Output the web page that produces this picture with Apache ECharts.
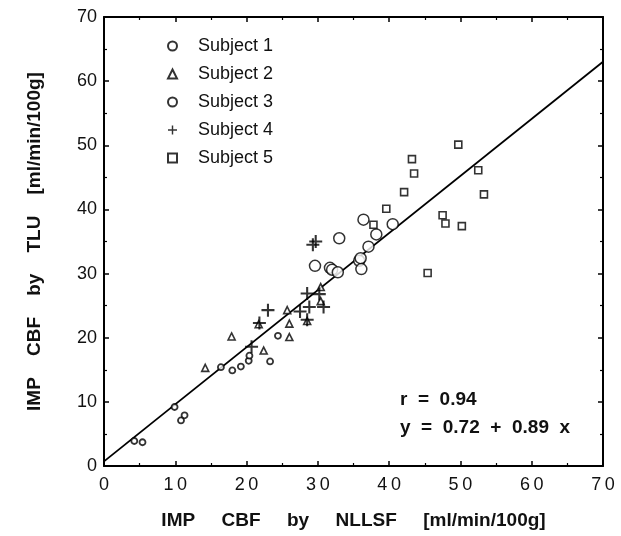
<!DOCTYPE html>
<html><head><meta charset="utf-8">
<script src="https://cdn.jsdelivr.net/npm/echarts@6/dist/echarts.min.js"></script>
<style>html,body{margin:0;padding:0;background:#fff}#c{width:621px;height:536px}</style>
</head><body><div id="c"></div>
<script>
// Data [NLLSF, TLU] in ml/min/100g
var subject1 = [[29.6,31.2],[31.7,30.9],[32.0,30.6],[32.8,30.2],[33.0,35.5],[35.8,32.0],[36.0,32.4],[36.1,30.7],[36.4,38.4],[37.1,34.2],[38.2,36.1],[40.5,37.7]];
var subject2 = [[14.2,15.3],[17.9,20.2],[21.7,22.1],[22.4,18.0],[25.7,24.3],[26.0,22.2],[26.0,20.1],[28.5,22.6],[30.4,27.9],[30.4,25.7]];
var subject3 = [[4.25,3.9],[5.4,3.7],[9.9,9.2],[10.8,7.1],[11.3,7.9],[16.4,15.4],[18.0,14.9],[19.2,15.5],[20.3,16.4],[20.4,17.2],[23.3,16.3],[24.4,20.3]];
var subject4 = [[20.7,18.6],[21.8,22.3],[23.0,24.3],[27.5,24.1],[28.5,26.9],[28.8,24.8],[28.5,22.8],[30.2,26.8],[30.8,24.8],[29.3,34.5],[29.7,35.0]];
var subject5 = [[37.8,37.6],[39.6,40.1],[42.1,42.7],[43.2,47.85],[43.5,45.6],[45.4,30.1],[47.5,39.1],[47.9,37.8],[49.7,50.1],[50.2,37.4],[52.5,46.1],[53.3,42.35]];
var seriesNames = ['Subject 1','Subject 2','Subject 3','Subject 4','Subject 5'];
var fitIntercept = 0.72, fitSlope = 0.89, fitR = 0.94;
var fitRange = [0, 70];
var axisMin = 0, axisMax = 70, axisInterval = 10;

var F = '"Liberation Sans", Arial, Helvetica, sans-serif';
var plusPath = 'path://M4.2,0 H5.8 V4.2 H10 V5.8 H5.8 V10 H4.2 V5.8 H0 V4.2 H4.2 Z';
function sc(name, data, symbol, size, style){
  return {name:name, type:'scatter', data:data, symbol:symbol, symbolSize:size, itemStyle:style, z:3};
}
var fitLine = fitRange.map(function(x){return [x, fitIntercept + fitSlope*x];});

var chart = echarts.init(document.getElementById('c'), null, {renderer:'canvas'});
var axisCommon = {
  type:'value', min:axisMin, max:axisMax, interval:axisInterval,
  axisLine:{show:true, onZero:false, lineStyle:{color:'#000', width:2}},
  axisTick:{show:true, inside:true, length:5, lineStyle:{color:'#000', width:1.5}},
  minorTick:{show:true, splitNumber:2, length:3, lineStyle:{color:'#000', width:1.2}},
  splitLine:{show:false}
};
chart.setOption({
  animation:false,
  backgroundColor:'#fff',
  grid:{left:104, right:18, top:17, bottom:70},
  legend:{
    orient:'vertical', left:162, top:32, itemGap:10, itemWidth:9, itemHeight:9,
    data:seriesNames,
    textStyle:{fontFamily:F, fontSize:18, color:'#111', padding:[0,0,0,16]}
  },
  xAxis:[
    Object.assign({}, axisCommon, {
      position:'bottom',
      name:'IMP     CBF     by     NLLSF     [ml/min/100g]', nameLocation:'middle', nameGap:45,
      nameTextStyle:{fontFamily:F, fontSize:19, fontWeight:'bold', color:'#111'},
      axisLabel:{fontFamily:F, fontSize:18, color:'#111', margin:10,
        formatter:function(v){return String(v).split('').join('\u2009');}}
    }),
    Object.assign({}, axisCommon, {position:'top', axisLabel:{show:false}})
  ],
  yAxis:[
    Object.assign({}, axisCommon, {
      position:'left',
      name:'IMP    CBF    by    TLU    [ml/min/100g]', nameLocation:'middle', nameGap:60,
      nameTextStyle:{fontFamily:F, fontSize:19, fontWeight:'bold', color:'#111'},
      axisLabel:{fontFamily:F, fontSize:18, color:'#111', margin:7}
    }),
    Object.assign({}, axisCommon, {position:'right', axisLabel:{show:false}})
  ],
  series:[
    sc(seriesNames[0], subject1, 'circle', 11, {color:'#fff', borderColor:'#000', borderWidth:1.5}),
    sc(seriesNames[1], subject2, 'triangle', 7, {color:'#fff', borderColor:'#000', borderWidth:1.6}),
    sc(seriesNames[2], subject3, 'circle', 6, {color:'#fff', borderColor:'#000', borderWidth:1.8}),
    sc(seriesNames[3], subject4, plusPath, 13, {color:'#000'}),
    sc(seriesNames[4], subject5, 'rect', 7, {color:'#fff', borderColor:'#000', borderWidth:1.6}),
    {type:'line', data:fitLine, symbol:'none', lineStyle:{color:'#000', width:1.8}, z:2, silent:true}
  ],
  graphic:[
    {type:'text', left:400, top:390, style:{text:'r  =  ' + fitR.toFixed(2), font:'bold 19px ' + F, fill:'#111'}},
    {type:'text', left:400, top:418, style:{text:'y  =  ' + fitIntercept.toFixed(2) + '  +  ' + fitSlope.toFixed(2) + '  x', font:'bold 19px ' + F, fill:'#111'}}
  ]
});
</script></body></html>
